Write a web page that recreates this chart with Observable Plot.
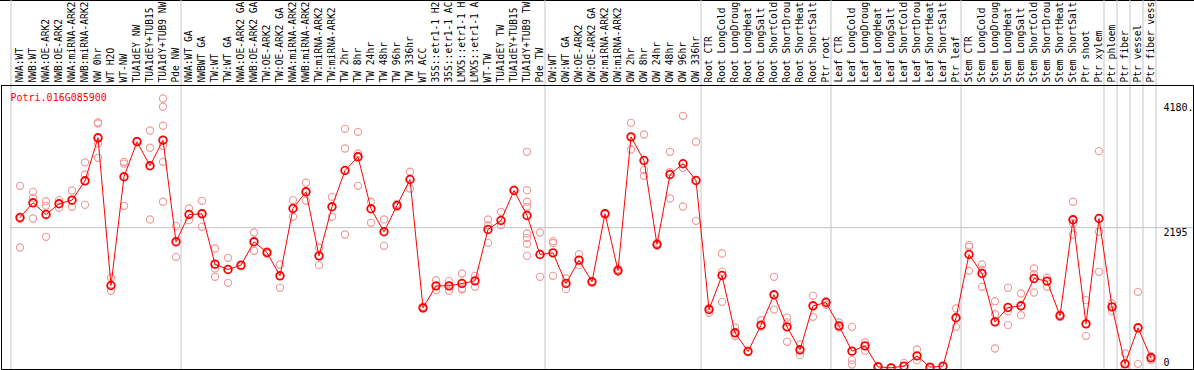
<!DOCTYPE html>
<html><head><meta charset="utf-8">
<script src="https://cdn.jsdelivr.net/npm/d3@7"></script>
<script src="https://cdn.jsdelivr.net/npm/@observablehq/plot@0.6"></script>
<style>
body{margin:0;background:#fff;}
#chart svg{display:block;box-shadow:inset 0 1px 0 #000;}
</style></head><body><div id="chart"></div>
<script>
const gene = "Potri.016G085900";
const samples = [
  "NWA:WT","NWB:WT","NWA:OE-ARK2","NWB:OE-ARK2","NWA:miRNA-ARK2","NWB:miRNA-ARK2","NW 0hr","WT H2O","WT-NW","TUA1dEY NW","TUA1dEY+TUB15","TUA1dY+TUB9 NW","Pde NW",
  "NWA:WT GA","NWBWT GA","TW:WT","TW:WT GA","NWA:OE-ARK2 GA","NWB:OE-ARK2 GA","TW:OE-ARK2","TW:OE-ARK2 GA","NWA:miRNA-ARK2","NWB:miRNA-ARK2","TW:miRNA-ARK2","TW:miRNA-ARK2","TW 2hr","TW 8hr","TW 24hr","TW 48hr","TW 96hr","TW 336hr","WT ACC","35S::etr1-1 H2","35S::etr1-1 AC","LMX5::etr1-1 H","LMX5::etr1-1 A","WT-TW","TUA1dEY TW","TUA1dEY+TUB15","TUA1dY+TUB9 TW","Pde TW",
  "OW:WT","OW:WT GA","OW:OE-ARK2","OW:OE-ARK2 GA","OW:miRNA-ARK2","OW:miRNA-ARK2","OW 2hr","OW 8hr","OW 24hr","OW 48hr","OW 96hr","OW 336hr",
  "Root CTR","Root LongCold","Root LongDroug","Root LongHeat","Root LongSalt","Root ShortCold","Root ShortDrou","Root ShortHeat","Root ShortSalt","Ptr root",
  "Leaf CTR","Leaf LongCold","Leaf LongDroug","Leaf LongHeat","Leaf LongSalt","Leaf ShortCold","Leaf ShortDrou","Leaf ShortHeat","Leaf ShortSalt","Ptr leaf",
  "Stem CTR","Stem LongCold","Stem LongDroug","Stem LongHeat","Stem LongSalt","Stem ShortCold","Stem ShortDrou","Stem ShortHeat","Stem ShortSalt","Ptr shoot","Ptr xylem",
  "Ptr phloem","Ptr fiber","Ptr vessel","Ptr fiber vess"
];
const means = [
  2351,2577,2398,2562,2618,2915,3576,1306,2977,3515,3146,3540,1978,
  2398,2408,1634,1552,1619,1978,1813,1455,2490,2746,1762,2516,3074,3284,2485,2132,2536,2935,963,1301,1301,1337,1378,2167,2305,2766,2382,1783,
  1808,1337,1696,1363,2408,1537,3591,3227,1937,3012,3177,2920,
  937,1460,579,292,697,1163,671,318,994,1045,
  686,297,379,56,41,67,225,51,67,810,
  1783,1491,748,968,994,1414,1373,841,2316,717,2336,
  978,102,656,195
];
const replicates = [
  [2838,1890,2330],[2746,2654,2336],[2602,2531,2055],[2618,2500],[2766,2516],[3197,3012,2546],[3811,3796,3489,3269],[1425,1225],[3207,3180,2531],[3530],[3688,3423,2321],[4180,4053,3761,3453,3207,2593],[2218,1747],
  [2490,2310],[2608,2208],[1875,1568,1440],[1732,1348],[1600],[2121,1840],[1830,1795],[1629,1271],[2618,2362],[2885,2608],[1886,1619],[2669,2362],[3714,3412,2090],[3668,3335,2838],[2593,2270],[2321,1916],[2560,2515],[3054,2797],[980,950],[1388,1234],[1373,1225],[1491,1260,1245],[1455,1286],[2321,2233,1962],[2439,2233],[2780],[3361,2771,2593,2516,2106,2039,1947,1762],[2121,1440],
  [1988,1960,1455],[1414,1250],[1788,1619],[1375],[2420],[1560,1515],[3806,3396],[3627,3079,2992],[1960,1915],[3361,3050,2643],[3914,3115,2520],[3515,2300],
  [960,886],[1798,1520,1055],[661,530],[300],[773,680],[1440,937],[814,740,441],[400,236],[1148,825],[1070,1010],
  [738,660],[671,159,92],[430,302],[70],[45],[118],[323,159],[40],[60],[953,671],
  [1926,1900,1532],[1629,1545,1286],[1065,865,338],[1271,911,697],[1183,850],[1568,1480,1199],[1425,1286],[860,820],[2593,2259,2090],[1081,533],[3371,2132,1517],
  [1030,911],[261,31],[1209,102],[220,159]
];
const groupEnds = [12, 40, 52, 62, 72, 83, 84, 85, 86, 87];
const yTicks = [0, 2195, 4180];
const yTickLabels = ["0", "2195", "4180."];

const idx = d3.range(samples.length);
const meanData = idx.map(i => ({i, v: means[i]}));
const repData = idx.flatMap(i => replicates[i].map(v => ({i, v})));
const mono = "DejaVu Sans Mono";

const plot = Plot.plot({
  width: 1194, height: 370,
  marginTop: 85, marginBottom: 1, marginLeft: 1, marginRight: 1,
  style: {fontFamily: mono, fontSize: "10px", background: "#fff", color: "#000"},
  x: {type: "band", domain: idx, range: [12.5, 1156.5], padding: 0, axis: null},
  y: {domain: [0, 4180], range: [370, 98], axis: null},
  marks: [
    Plot.ruleY([yTicks[1]], {stroke: "#c4c4c4", insetLeft: 9}),
    Plot.ruleX(groupEnds, {x: d => d, dx: 5, stroke: "#c4c4c4", insetTop: -85}),
    Plot.ruleX([idx[0]], {x: d => d, dx: -9, stroke: "#c4c4c4", insetTop: -85}),
    Plot.axisX({anchor: "top", tickSize: 0, tickPadding: 3, tickRotate: -90, tickFormat: i => samples[i], fontSize: 9.6, label: null, fill: "#000"}),
    Plot.dot(repData, {x: "i", y: "v", r: 3.6, stroke: "#f09a9a", strokeWidth: 1.1}),
    Plot.line(meanData, {x: "i", y: "v", stroke: "#ff0000", strokeWidth: 1}),
    Plot.dot(meanData, {x: "i", y: "v", r: 3.8, stroke: "#ff0000", strokeWidth: 1.8}),
    Plot.frame({stroke: "#000"}),
    Plot.text([gene], {frameAnchor: "top-left", dx: 9, dy: 12, lineAnchor: "middle", fill: "#ff0000", fontSize: 10}),
    Plot.text([yTicks[2]], {y: d => d, text: () => yTickLabels[2], frameAnchor: "right", textAnchor: "start", dx: -30, dy: 9, fontSize: 10}),
    Plot.text([yTicks[1]], {y: d => d, text: () => yTickLabels[1], frameAnchor: "right", textAnchor: "start", dx: -30, dy: 5, fontSize: 10}),
    Plot.text([yTicks[0]], {y: d => d, text: () => yTickLabels[0], frameAnchor: "right", textAnchor: "start", dx: -30, dy: -8, fontSize: 10})
  ]
});
document.getElementById("chart").append(plot);
</script></body></html>
